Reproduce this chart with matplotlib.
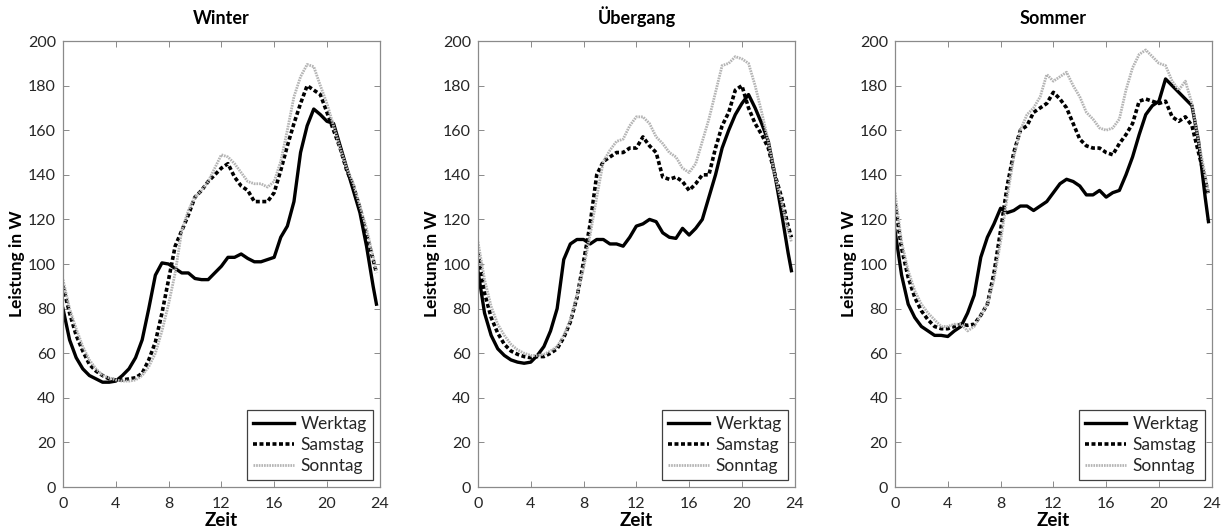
import matplotlib
matplotlib.use("Agg")
from matplotlib import pyplot as plt

plt.rcParams["font.family"] = ["Lato", "DejaVu Sans"]

# half-hour samples, last one at 23:45
hours = [0, 0.5, 1, 1.5, 2, 2.5, 3, 3.5, 4, 4.5, 5, 5.5, 6, 6.5, 7, 7.5,
         8, 8.5, 9, 9.5, 10, 10.5, 11, 11.5, 12, 12.5, 13, 13.5, 14, 14.5,
         15, 15.5, 16, 16.5, 17, 17.5, 18, 18.5, 19, 19.5, 20, 20.5, 21,
         21.5, 22, 22.5, 23, 23.5, 23.75]

seasons = ["Winter", "Übergang", "Sommer"]
day_types = ["Werktag", "Samstag", "Sonntag"]

winter_werktag = [80, 66, 58, 53, 50, 48.5, 47, 47, 47.5, 50, 53, 58, 66, 80,
                  95, 100.5, 100, 98, 96, 96, 93.5, 93, 93, 96, 99, 103, 103,
                  104.5, 102.5, 101, 101, 102, 103, 112, 117, 128, 150, 162,
                  169.5, 167, 164, 163, 153, 143, 133, 123, 108, 90, 82]
winter_samstag = [90, 78, 68, 61, 55, 52, 50, 48.5, 48, 48, 48.5, 49, 51, 57,
                  65, 78, 93, 108, 115, 122, 130, 133, 137, 140, 143, 145,
                  139, 135, 133, 128, 128, 128, 132, 142, 153, 163, 172, 180,
                  178, 176, 168, 160, 152, 142, 135, 125, 113, 102, 96]
winter_sonntag = [93, 80, 71, 63, 57, 53, 50, 49, 48, 47.5, 47.5, 48, 50, 54,
                  60, 70, 82, 96, 115, 124, 130, 133, 137, 143, 149, 148, 145,
                  141, 137, 136, 136, 134.5, 137, 146, 160, 175, 184, 189.5,
                  188.5, 180, 172, 162, 152, 143, 136, 126, 116, 103, 97]

uebergang_werktag = [97, 78, 68, 62, 59, 57, 56, 55.5, 56, 59, 63, 70, 80, 102,
                     109, 111, 111, 109, 111, 111, 109, 109, 108, 112, 117,
                     118, 120, 119, 114, 112, 111.5, 116, 113, 116, 120, 130,
                     140, 152, 160, 167, 172, 176, 170, 163, 155, 140, 123,
                     105, 97]
uebergang_samstag = [105, 87, 76, 69, 64, 61, 59.5, 58.5, 58, 58.5, 58.5, 60,
                     62, 67, 74, 85, 101, 118, 140, 146, 148, 150, 150, 152,
                     152, 157, 153, 150, 139, 138, 139, 137, 133, 136, 140,
                     140, 152, 162, 168, 178, 180, 170, 163, 158, 152, 140,
                     130, 117, 112]
uebergang_sonntag = [110, 93, 81, 73, 68, 64, 61.5, 60, 59, 59, 59.5, 61, 63,
                     68, 75, 86, 98, 113, 130, 146, 151, 155, 156, 162, 166,
                     166, 163, 157, 154, 150, 148, 143, 141, 145, 155, 165,
                     177, 189, 190, 193, 192, 190, 180, 168, 155, 140, 128,
                     115, 110]

sommer_werktag = [115, 95, 82, 76, 72, 70, 68, 68, 67.5, 70, 72, 78, 86, 103,
                  112, 118, 125, 123, 124, 126, 126, 124, 126, 128, 132, 136,
                  138, 137, 135, 131, 131, 133, 130, 132, 133, 140, 148, 158,
                  167, 171, 173, 183, 180, 177, 174, 171, 155, 130, 119]
sommer_samstag = [127, 107, 94, 85, 79, 75, 72, 71, 71, 72, 73, 72.5, 73, 77,
                  82, 96, 115, 135, 150, 160, 162, 168, 170, 172, 177, 174,
                  170, 163, 156, 153, 152, 152, 150, 149, 154, 158, 163, 173,
                  174, 173, 172, 173, 166, 164, 166, 162, 150, 138, 131]
sommer_sonntag = [132, 110, 97, 88, 82, 78, 75, 72, 72, 73, 73, 70, 72, 77,
                  82, 93, 110, 130, 148, 160, 167, 170, 175, 185, 182, 184,
                  186, 180, 175, 168, 165, 161, 160, 161, 165, 178, 188, 194,
                  196, 193, 190, 189, 182, 178, 182, 172, 155, 140, 132]

profiles = [
    [winter_werktag, winter_samstag, winter_sonntag],
    [uebergang_werktag, uebergang_samstag, uebergang_sonntag],
    [sommer_werktag, sommer_samstag, sommer_sonntag],
]

line_styles = [
    dict(color="black", linewidth=2.4, linestyle="-"),
    dict(color="black", linewidth=2.6, linestyle=(0, (1.1, 0.7))),
    dict(color="#b4b4b4", linewidth=2.0, linestyle=(0, (0.6, 0.35))),
]

fig = plt.figure(figsize=(12.23, 5.3), dpi=100)
lefts = [0.0515, 0.3908, 0.7318]
spine_grey = "#8a8a8a"

for left, season, series in zip(lefts, seasons, profiles):
    ax = fig.add_axes([left, 0.0811, 0.259, 0.8415])
    for values, label, style in zip(series, day_types, line_styles):
        ax.plot(hours, values, label=label, **style)

    ax.set_xlim(0, 24)
    ax.set_ylim(0, 200)
    ax.set_xticks(range(0, 25, 4))
    ax.set_yticks(range(0, 201, 20))
    ax.tick_params(direction="in", top=True, right=True, length=4,
                   width=0.7, color=spine_grey, labelsize=11.5,
                   labelcolor="#262626", pad=5)
    ax.tick_params(axis="x", pad=7)
    for spine in ax.spines.values():
        spine.set_color(spine_grey)
        spine.set_linewidth(0.9)

    ax.set_title(season, fontsize=13, fontweight="bold", pad=12)
    ax.set_xlabel("Zeit", fontsize=13.5, fontweight="bold", labelpad=1)
    ax.set_ylabel("Leistung in W", fontsize=12.5, fontweight="bold",
                  labelpad=2)

    leg = ax.legend(loc="lower right", fontsize=12.5, handlelength=2.4,
                    fancybox=False, framealpha=1, borderaxespad=0.4,
                    borderpad=0.35, labelspacing=0.3, handletextpad=0.35)
    leg.get_frame().set_edgecolor("#404040")
    leg.get_frame().set_linewidth(0.9)
    for text in leg.get_texts():
        text.set_color("#262626")

fig.savefig("out.png", dpi=100)
